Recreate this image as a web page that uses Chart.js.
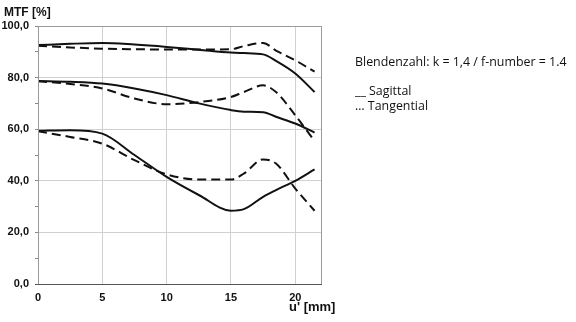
<!DOCTYPE html>
<html>
<head>
<meta charset="utf-8">
<script src="https://cdn.jsdelivr.net/npm/chart.js@4"></script>
<style>
    html, body {margin: 0; padding: 0; background: #fff;}
    #wrap {position: relative; width: 576px; height: 322px;}
    .note {position: absolute; font-family: "Open Sans", sans-serif; font-size: 12.4px; color: #111; white-space: nowrap; line-height: 15px;}
</style>
</head>
<body>
<div id="wrap">
    <canvas id="mtf" width="576" height="322"></canvas>
    <div class="note" style="left:355px; top:54px;">Blendenzahl: k = 1,4 / f-number = 1.4</div>
    <div class="note" style="left:355px; top:83px;">__ Sagittal</div>
    <div class="note" style="left:355px; top:98px;">… Tangential</div>
</div>
<script>
// image height u' in mm
const u = [0, 2.5, 5, 7.5, 10, 12.5, 15, 16, 17.5, 18.5, 20, 21.5];

// MTF values [%], three line-pair frequencies, sagittal + tangential
const sag_high = [92.6, 93.1, 93.4, 92.8, 91.9, 90.8, 89.7, 89.5, 89.0, 86.5, 81.6, 74.4];
const tan_high = [92.3, 91.7, 91.2, 91.0, 90.9, 90.9, 91.0, 92.2, 93.4, 90.5, 86.7, 82.3];
const sag_mid  = [78.7, 78.4, 77.7, 75.8, 73.2, 70.0, 67.4, 66.8, 66.6, 64.8, 62.2, 58.7];
const tan_mid  = [78.6, 77.5, 75.8, 71.9, 69.7, 70.5, 72.5, 74.4, 77.0, 74.4, 65.4, 55.4];
const sag_low  = [59.4, 59.6, 58.3, 50.0, 41.5, 34.5, 28.4, 29.0, 33.8, 36.4, 40.0, 44.4];
const tan_low  = [59.2, 57.0, 54.4, 48.0, 42.5, 40.5, 40.5, 42.8, 48.3, 46.7, 37.0, 28.4];

const xTicks = [0, 5, 10, 15, 20];

const pts = ys => ys.map((y, i) => ({x: u[i], y}));

const solid = ys => ({
    data: pts(ys), borderColor: '#111', borderWidth: 2, fill: false,
    pointRadius: 0, cubicInterpolationMode: 'monotone'
});
const dashed = ys => ({...solid(ys), borderDash: [9, 5]});

const tickFont = {family: '"Liberation Sans", Arial, sans-serif', size: 11, weight: 'bold'};

const frame_plugin = {
    id: 'frameAndLabels',
    afterDraw: (chart) => {
        const {ctx, chartArea: a} = chart;
        ctx.save();
        ctx.strokeStyle = '#9a9a9a';
        ctx.lineWidth = 1;
        ctx.strokeRect(a.left + 0.5, a.top + 0.5, a.right - a.left, a.bottom - a.top);
        // darker base line, running a little left of the y axis
        ctx.strokeStyle = '#555';
        ctx.beginPath();
        ctx.moveTo(a.left - 3, a.bottom + 0.5);
        ctx.lineTo(a.right + 1, a.bottom + 0.5);
        ctx.stroke();
        ctx.fillStyle = '#111';
        ctx.textBaseline = 'middle';
        ctx.textAlign = 'left';
        ctx.font = 'bold 12px "Liberation Sans", Arial, sans-serif';
        ctx.fillText('MTF [%]', 4, 13);
        ctx.font = 'bold 13px "Liberation Sans", Arial, sans-serif';
        ctx.fillText("u' [mm]", 289, 307);
        ctx.restore();
    }
};

new Chart(document.getElementById('mtf'), {
    type: 'line',
    data: {
        datasets: [
            solid(sag_high), dashed(tan_high),
            solid(sag_mid), dashed(tan_mid),
            solid(sag_low), dashed(tan_low)
        ]
    },
    options: {
        responsive: false,
        animation: false,
        layout: {padding: {top: 26, right: 255, left: 0, bottom: 0}},
        plugins: {legend: {display: false}, tooltip: {enabled: false}},
        scales: {
            x: {
                type: 'linear', min: 0, max: 22,
                afterBuildTicks: s => { s.ticks = xTicks.map(v => ({value: v})); },
                afterFit: s => { s.height = 38; },
                ticks: {color: '#111', padding: 7, font: tickFont},
                grid: {color: '#d0d0d0', tickLength: 0},
                border: {display: false}
            },
            y: {
                min: 0, max: 100,
                afterFit: s => { s.width = 38; },
                ticks: {
                    stepSize: 10, color: '#111', padding: 6, font: tickFont,
                    callback: v => v % 20 === 0 ? v.toFixed(1).replace('.', ',') : ''
                },
                grid: {
                    color: c => c.tick && c.tick.value % 20 === 0 ? '#d0d0d0' : 'rgba(0,0,0,0)',
                    tickColor: '#8a8a8a', tickLength: 3
                },
                border: {display: false}
            }
        }
    },
    plugins: [frame_plugin]
});
</script>
</body>
</html>
